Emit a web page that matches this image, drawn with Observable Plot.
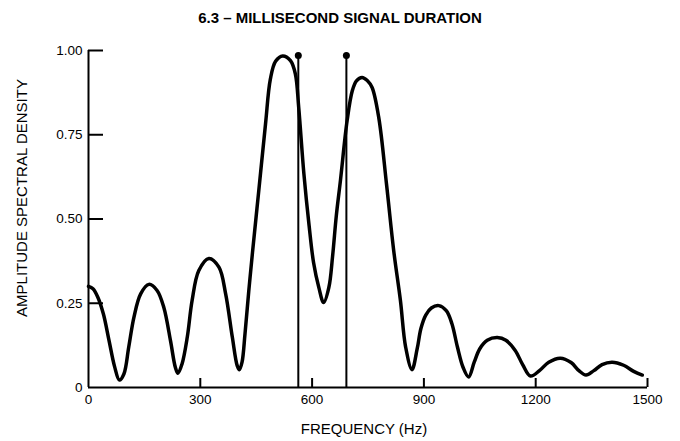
<!DOCTYPE html>
<html><head><meta charset="utf-8">
<script src="https://cdn.jsdelivr.net/npm/d3@7"></script>
<script src="https://cdn.jsdelivr.net/npm/@observablehq/plot@0.6"></script>
<style>
body{margin:0;background:#fff;font-family:"Liberation Sans",Arial,sans-serif;}
#title{width:680px;height:30px;box-sizing:border-box;padding-top:10px;text-align:center;font-weight:bold;font-size:15px;line-height:1;color:#000;}
</style></head><body>
<div id="title"></div><div id="chart"></div>
<script>
const title = "6.3 – MILLISECOND SIGNAL DURATION";
const xLabel = "FREQUENCY (Hz)";
const yLabel = "AMPLITUDE SPECTRAL DENSITY";
const xTicks = [0, 300, 600, 900, 1200, 1500];
const xTickLabels = ["0", "300", "600", "900", "1200", "1500"];
const yTicks = [0, 0.25, 0.5, 0.75, 1];
const yTickLabels = ["0", "0.25", "0.50", "0.75", "1.00"];
const freq = [0,12,25,40,55,70,83,95,108,122,140,162,184,202,220,233,240,251,265,278,296,323,350,368,386,399,405,412,420,430,440,457,475,488,502,521,542,555,564,578,592,604,618,631,645,655,665,676,694,708,719,734,748,761,779,800,819,837,851,868,882,892,905,920,940,960,975,990,1005,1020,1035,1050,1070,1097,1120,1145,1165,1186,1210,1235,1266,1295,1316,1335,1356,1378,1405,1436,1463,1486];
const density = [0.300,0.293,0.268,0.218,0.140,0.062,0.022,0.040,0.120,0.209,0.278,0.306,0.288,0.238,0.139,0.060,0.042,0.070,0.149,0.258,0.347,0.383,0.357,0.278,0.149,0.065,0.053,0.075,0.160,0.285,0.400,0.585,0.782,0.915,0.968,0.984,0.970,0.931,0.832,0.634,0.480,0.370,0.297,0.252,0.297,0.390,0.510,0.614,0.792,0.881,0.910,0.920,0.911,0.890,0.800,0.600,0.406,0.258,0.120,0.053,0.115,0.175,0.215,0.236,0.243,0.228,0.190,0.120,0.060,0.031,0.075,0.115,0.140,0.148,0.140,0.110,0.068,0.034,0.050,0.075,0.087,0.074,0.050,0.037,0.050,0.068,0.075,0.066,0.048,0.037];
const lineFreqs = [563, 692];
const lineTops = [0.985, 0.985];

document.getElementById("title").textContent = title;

const W = 680, H = 411, mL = 88, mR = 33, mT = 20, mB = 54;
const fw = W - mL - mR, fh = H - mT - mB;
const curveData = freq.map((f, i) => ({f, v: density[i]}));
const lines = lineFreqs.map((f, i) => ({f, top: lineTops[i]}));

const chart = Plot.plot({
  width: W, height: H,
  marginLeft: mL, marginRight: mR, marginTop: mT, marginBottom: mB,
  style: {fontFamily: '"Liberation Sans", Arial, sans-serif', fontSize: "13px", color: "#000", background: "#fff"},
  x: {domain: [0, 1500]},
  y: {domain: [0, 1]},
  marks: [
    Plot.axisX(xTicks, {tickSize: 0, tickPadding: 7, label: null, fontSize: 13.5,
      tickFormat: d => xTickLabels[xTicks.indexOf(d)]}),
    Plot.axisY(yTicks, {tickSize: 0, tickPadding: 6, label: null, fontSize: 13.5,
      tickFormat: d => yTickLabels[yTicks.indexOf(d)]}),
    Plot.tickX(xTicks.slice(1), {x: d => d, insetTop: fh - 9, strokeWidth: 2, stroke: "#000"}),
    Plot.tickY(yTicks.slice(1), {y: d => d, insetRight: fw - 15, strokeWidth: 2, stroke: "#000"}),
    Plot.ruleX([0], {strokeWidth: 2, stroke: "#000"}),
    Plot.ruleY([0], {strokeWidth: 2, stroke: "#000"}),
    Plot.ruleX(lines, {x: "f", y1: () => 0, y2: "top", strokeWidth: 2, stroke: "#000"}),
    Plot.dot(lines, {x: "f", y: "top", r: 3.5, fill: "#000"}),
    Plot.line(curveData, {x: "f", y: "v", curve: "catmull-rom", strokeWidth: 3.5, stroke: "#000", strokeLinejoin: "round"}),
    Plot.text([yLabel], {text: d => d, frameAnchor: "left", textAnchor: "middle", rotate: -90, dx: -66, dy: -21, fontSize: 15, fill: "#000"}),
    Plot.text([xLabel], {text: d => d, frameAnchor: "bottom", textAnchor: "middle", dy: 46, dx: -4, fontSize: 15, fill: "#000"})
  ]
});
document.getElementById("chart").appendChild(chart);
</script>
</body></html>
